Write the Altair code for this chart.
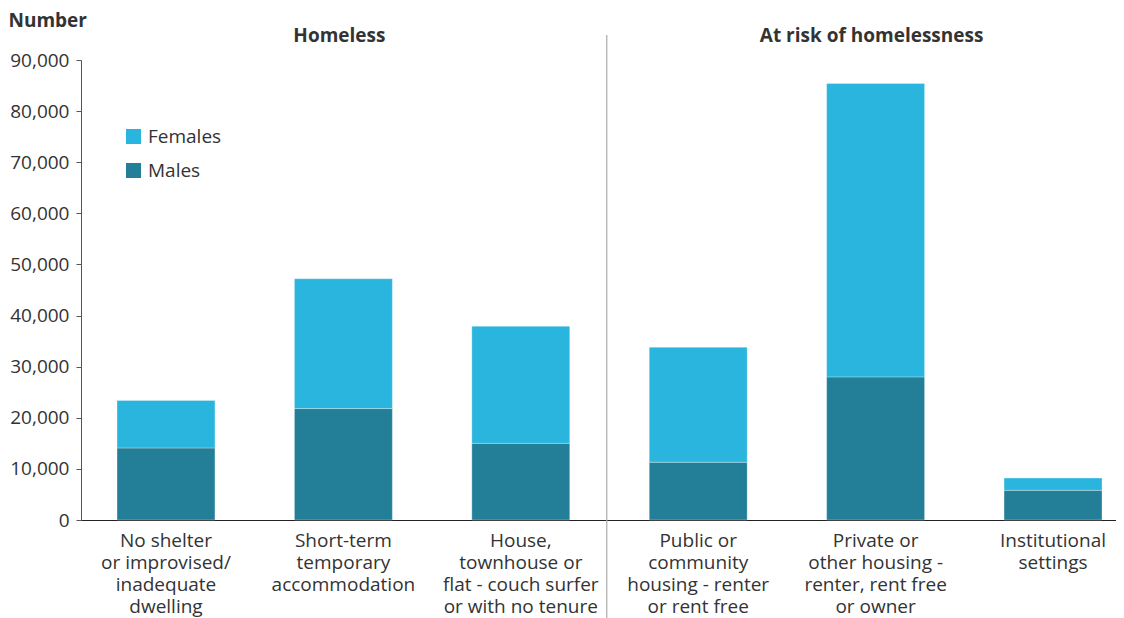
import altair as alt
import pandas as pd

# ---- data ----
categories = [
    "No shelter|or improvised/|inadequate|dwelling",
    "Short-term|temporary|accommodation",
    "House,|townhouse or|flat - couch surfer|or with no tenure",
    "Public or|community|housing - renter|or rent free",
    "Private or|other housing -|renter, rent free|or owner",
    "Institutional|settings",
]
males = [14100, 21800, 15000, 11300, 28000, 5800]
females = [9300, 25400, 22900, 22500, 57400, 2400]
sexes = ["Females", "Males"]
sex_colors = ["#29B5DD", "#237F97"]
y_ticks = [0, 10000, 20000, 30000, 40000, 50000, 60000, 70000, 80000, 90000]
group_labels = ["Homeless", "At risk of homelessness"]
group_anchor = [categories[1], categories[4]]
divider_after = [categories[2]]

rows = []
for c, m, f in zip(categories, males, females):
    rows.append({"category": c, "sex": "Males", "value": m, "order": 0})
    rows.append({"category": c, "sex": "Females", "value": f, "order": 1})
df = pd.DataFrame(rows)
df_groups = pd.DataFrame({"category": group_anchor, "label": group_labels})
df_div = pd.DataFrame({"category": divider_after})

W, H = 1035, 460
FONT = "Open Sans"
TXT = "#333333"

x_scale = alt.Scale(domain=categories, paddingInner=0.448, paddingOuter=0.141, align=0.72)
x_axis = alt.Axis(
    title=None, labelAngle=0, labelExpr="split(datum.label, '|')",
    labelFontSize=19, labelLineHeight=22, labelColor=TXT, labelPadding=11,
    labelBaseline="top", ticks=False, domainColor="#222222", domainWidth=1.2,
    labelFont=FONT,
)

bars = alt.Chart(df).mark_bar(stroke="white", strokeWidth=0.5, strokeOpacity=0.6).encode(
    x=alt.X("category:N", sort=categories, scale=x_scale, axis=x_axis),
    y=alt.Y(
        "value:Q", stack="zero",
        scale=alt.Scale(domain=[0, 90000], nice=False),
        axis=alt.Axis(
            values=y_ticks, format=",.0f", title="Number", titleAngle=0,
            titleX=-73, titleY=-34, titleAlign="left", titleBaseline="alphabetic",
            titleFontSize=19, titleFontWeight="bold", titleColor=TXT, titleFont=FONT,
            labelFontSize=19, labelColor=TXT, labelFont=FONT, labelPadding=7,
            tickSize=5, tickColor="#555555", domainColor="#555555", grid=False,
        ),
    ),
    color=alt.Color(
        "sex:N",
        scale=alt.Scale(domain=sexes, range=sex_colors),
        legend=alt.Legend(
            title=None, orient="none", legendX=43, legendY=67,
            symbolType="square", symbolSize=225, symbolStrokeWidth=0,
            labelFontSize=19, labelColor=TXT, labelFont=FONT, labelOffset=5,
            rowPadding=14, padding=0,
        ),
    ),
    order=alt.Order("order:Q"),
)

groups = alt.Chart(df_groups).mark_text(
    font=FONT, fontSize=19, fontWeight="bold", color=TXT, baseline="middle", dx=-4
).encode(
    x=alt.X("category:N", sort=categories, scale=x_scale, axis=x_axis),
    y=alt.value(-24),
    text="label:N",
)

divider = alt.Chart(df_div).mark_rule(color="#AAAAAA", strokeWidth=1.2, xOffset=37).encode(
    x=alt.X("category:N", sort=categories, scale=x_scale, axis=x_axis, bandPosition=1),
    y=alt.value(-25),
    y2=alt.value(H + 100),
)

chart = alt.layer(bars, divider, groups).properties(
    width=W, height=H,
    autosize=alt.AutoSizeParams(type="none"),
    padding={"left": 73, "top": 52, "right": 0, "bottom": 100},
).configure_view(stroke=None)

chart.save("out.html", embed_options={"renderer": "svg", "actions": False})
